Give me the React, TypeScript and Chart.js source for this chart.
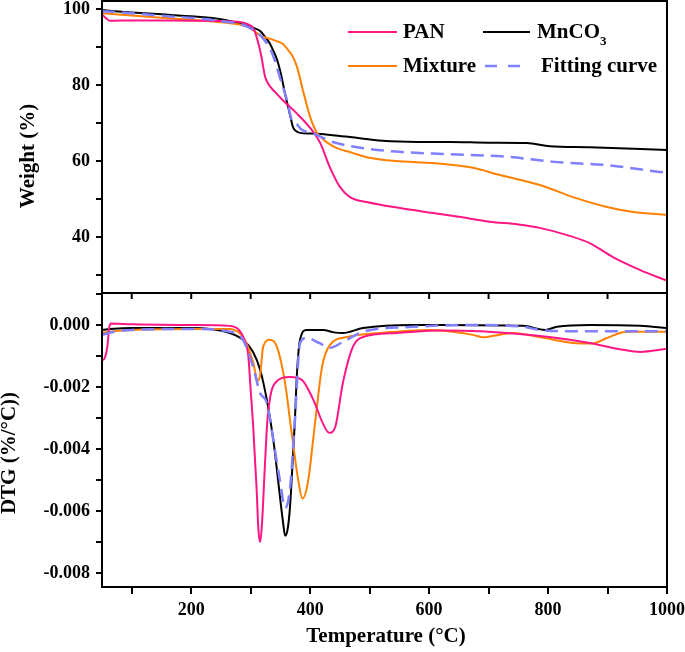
import { useEffect, useRef } from 'react';
import { Chart, registerables } from 'chart.js';
Chart.register(...registerables);

const FONT = '"Liberation Serif", "Times New Roman", serif';

const PAN_COLOR = '#ff1685';
const MN_COLOR = '#000000';
const MIX_COLOR = '#ff8000';
const FIT_COLOR = '#7f7fff';

// ---------- Weight (%) ----------
const panWT = [50, 55, 63, 100, 200, 270, 295, 305, 312, 318, 324, 330, 340, 354, 377, 400, 417, 433, 450, 467, 495, 551, 607, 650, 702, 750, 786, 832, 870, 909, 955, 1000];
const panW = [98.5, 97.8, 96.9, 97.0, 96.9, 96.7, 96.0, 94.8, 91.5, 87.5, 82.3, 80.2, 78.3, 76.0, 72.6, 68.7, 64.7, 58.4, 53.2, 50.5, 49.2, 47.6, 46.3, 45.3, 44.0, 43.3, 42.4, 40.5, 38.4, 34.7, 31.3, 28.5];

const mnWT = [50, 100, 150, 206, 250, 290, 305, 316, 325, 332, 338, 344, 350, 354, 358, 363, 367, 371, 376, 383, 403, 438, 467, 522, 580, 635, 700, 764, 803, 870, 1000];
const mnW = [99.7, 99.1, 98.6, 98.0, 97.3, 95.8, 95.0, 94.2, 92.5, 91.0, 89.0, 86.8, 83.5, 80.6, 77.5, 74.2, 71.5, 69.0, 67.9, 67.4, 67.2, 66.8, 66.3, 65.3, 65.0, 65.0, 64.8, 64.7, 63.9, 63.6, 62.9];

const mixWT = [50, 100, 150, 206, 250, 295, 310, 320, 332, 346, 354, 363, 371, 378, 388, 400, 411, 420, 430, 445, 470, 495, 551, 618, 674, 719, 786, 842, 899, 943, 1000];
const mixW = [98.9, 98.3, 97.7, 97.1, 96.5, 95.3, 93.7, 92.7, 92.2, 91.4, 90.8, 89.2, 87.4, 84.7, 78.5, 71.6, 67.5, 66.0, 64.7, 63.4, 62.2, 61.0, 59.9, 59.3, 58.2, 56.3, 53.7, 50.5, 47.9, 46.6, 45.8];

const fitWT = [50, 100, 150, 206, 250, 295, 319, 336, 349, 361, 369, 378, 386, 403, 430, 438, 487, 551, 635, 731, 815, 899, 988, 1000];
const fitW = [99.4, 98.9, 98.2, 97.6, 96.8, 95.3, 92.6, 88.4, 82.1, 76.0, 70.8, 69.6, 68.2, 67.4, 65.5, 65.0, 63.4, 62.4, 61.8, 61.1, 59.7, 58.9, 57.1, 56.9];

// ---------- DTG (%/°C) ----------
const panDT = [50, 55, 59, 62, 65, 100, 200, 265, 280, 290, 296, 300, 304, 310, 313, 316, 319, 324, 328, 333, 340, 366, 386, 405, 422, 432, 442, 455, 472, 489, 546, 620, 686, 731, 815, 870, 926, 955, 1000];
const panD = [-0.00115, -0.00105, -0.0007, -0.0001, 0.00005, 0.00002, 0.0, -0.00003, -0.00015, -0.0005, -0.001, -0.0021, -0.0032, -0.0053, -0.0066, -0.0070, -0.0064, -0.0045, -0.0031, -0.0023, -0.0019, -0.00168, -0.00177, -0.0024, -0.0032, -0.00348, -0.0033, -0.00187, -0.0007, -0.00039, -0.00026, -0.00018, -0.0002, -0.00026, -0.00042, -0.00058, -0.0008, -0.00087, -0.00077];

const mnDT = [50, 70, 100, 200, 265, 287, 304, 316, 327, 338, 349, 354, 358, 362, 366, 370, 374, 378, 383, 394, 422, 440, 455, 489, 573, 618, 758, 795, 815, 870, 955, 1000];
const mnD = [-0.00016, -0.00012, -0.0001, -0.0001, -0.00026, -0.00048, -0.00087, -0.00145, -0.0024, -0.0037, -0.0055, -0.0063, -0.0068, -0.0066, -0.0059, -0.0046, -0.0032, -0.0015, -0.00048, -0.00016, -0.00016, -0.00024, -0.00026, -0.0001, 0.0, 0.0, -0.00003, -0.00016, -0.00006, 0.0, -0.00003, -0.0001];

const mixDT = [50, 70, 100, 200, 265, 290, 304, 312, 316, 321, 332, 344, 358, 369, 380, 387, 396, 408, 420, 433, 462, 517, 601, 674, 691, 708, 741, 786, 842, 874, 899, 932, 1000];
const mixD = [-0.00026, -0.0002, -0.00016, -0.00013, -0.00013, -0.00048, -0.0012, -0.0018, -0.0016, -0.0007, -0.00048, -0.0007, -0.0019, -0.0035, -0.005, -0.0056, -0.0051, -0.0032, -0.00135, -0.00065, -0.00039, -0.00026, -0.00016, -0.00032, -0.0004, -0.00035, -0.00026, -0.00039, -0.00058, -0.0006, -0.00042, -0.00022, -0.00022];

const fitDT = [50, 70, 100, 200, 265, 287, 304, 316, 327, 338, 349, 358, 366, 374, 383, 394, 415, 433, 455, 489, 573, 686, 758, 786, 842, 926, 1000];
const fitD = [-0.00032, -0.00022, -0.00016, -0.00013, -0.00022, -0.00048, -0.00135, -0.0022, -0.0025, -0.0037, -0.005, -0.0059, -0.0053, -0.0032, -0.00058, -0.00042, -0.00058, -0.00074, -0.00055, -0.00022, -0.00006, 0.0, -0.00006, -0.00016, -0.0002, -0.0002, -0.0002];

// axis ranges / ticks
const X_MIN = 50;
const X_MAX = 1000;
const W_MIN = 25.26;
const W_MAX = 102.1;
const D_MIN = -0.00845;
const D_MAX = 0.00103;

const pts = (xs: number[], ys: number[]) => xs.map((x, i) => ({ x, y: ys[i] }));

function ds(label: string, xs: number[], ys: number[], color: string, dashed = false) {
  return {
    label,
    data: pts(xs, ys),
    borderColor: color,
    backgroundColor: color,
    borderWidth: dashed ? 2.5 : 2,
    borderDash: dashed ? [13, 7] : [],
    pointRadius: 0,
    fill: false,
    cubicInterpolationMode: 'monotone' as const,
  };
}

const tickFont = { family: FONT, size: 18, weight: 'bold' as const };

function frameRect(chart: any) {
  const { ctx, chartArea: a } = chart;
  ctx.save();
  ctx.strokeStyle = '#000';
  ctx.lineWidth = 2;
  ctx.strokeRect(a.left, a.top, a.right - a.left, a.bottom - a.top);
  ctx.restore();
}

function vTitle(ctx: CanvasRenderingContext2D, text: string, x: number, y: number) {
  ctx.save();
  ctx.translate(x, y);
  ctx.rotate(-Math.PI / 2);
  ctx.font = `bold 21px ${FONT}`;
  ctx.fillStyle = '#000';
  ctx.textAlign = 'center';
  ctx.textBaseline = 'middle';
  ctx.fillText(text, 0, 0);
  ctx.restore();
}

const topPlugin = {
  id: 'topDecor',
  afterDraw(chart: any) {
    frameRect(chart);
    const ctx: CanvasRenderingContext2D = chart.ctx;
    vTitle(ctx, 'Weight (%)', 29, 156);
    // legend
    ctx.save();
    ctx.lineWidth = 2;
    const line = (x1: number, x2: number, y: number, c: string, dash: number[] = []) => {
      ctx.beginPath();
      ctx.setLineDash(dash);
      ctx.strokeStyle = c;
      ctx.lineWidth = dash.length ? 2.5 : 2;
      ctx.moveTo(x1, y);
      ctx.lineTo(x2, y);
      ctx.stroke();
      ctx.setLineDash([]);
    };
    line(348, 397, 32, PAN_COLOR);
    line(483, 530, 32, MN_COLOR);
    line(348, 397, 66, MIX_COLOR);
    line(485, 521, 66, FIT_COLOR, [12, 11]);
    ctx.fillStyle = '#000';
    ctx.textAlign = 'left';
    ctx.textBaseline = 'middle';
    ctx.font = `bold 21px ${FONT}`;
    ctx.fillText('PAN', 403, 33);
    ctx.fillText('MnCO', 537, 33);
    const w = ctx.measureText('MnCO').width;
    ctx.fillText('Mixture', 403, 67);
    ctx.fillText('Fitting curve', 541, 67);
    ctx.font = `bold 13px ${FONT}`;
    ctx.fillText('3', 537 + w, 42);
    ctx.restore();
  },
};

const bottomPlugin = {
  id: 'bottomDecor',
  afterDraw(chart: any) {
    frameRect(chart);
    const ctx: CanvasRenderingContext2D = chart.ctx;
    const a = chart.chartArea;
    const xs = chart.scales.x;
    ctx.save();
    ctx.strokeStyle = '#000';
    ctx.lineWidth = 2;
    for (let v = 100; v <= 1000; v += 100) {
      const px = xs.getPixelForValue(v);
      ctx.beginPath();
      ctx.moveTo(px, a.top);
      ctx.lineTo(px, a.top + 6);
      ctx.stroke();
    }
    ctx.restore();
    vTitle(ctx, 'DTG (%/°C))', 10, 162);
    ctx.save();
    ctx.font = `bold 21px ${FONT}`;
    ctx.fillStyle = '#000';
    ctx.textAlign = 'center';
    ctx.textBaseline = 'middle';
    ctx.fillText('Temperature (°C)', 386, 346);
    ctx.restore();
  },
};

function yAxis(min: number, max: number, step: number, cb: (v: number) => string) {
  return {
    type: 'linear' as const,
    min,
    max,
    afterFit(s: any) {
      s.width = 102;
      s.paddingTop = 0;
      s.paddingBottom = 0;
    },
    ticks: {
      stepSize: step,
      includeBounds: false,
      autoSkip: false,
      callback: (v: any) => cb(Number(v)),
      color: '#000',
      font: tickFont,
      padding: 6,
    },
    grid: { drawOnChartArea: false, tickLength: 6, color: '#000', lineWidth: 2 },
    border: { display: true, color: '#000', width: 2 },
  };
}

export default function App() {
  const refA = useRef<HTMLCanvasElement>(null);
  const refB = useRef<HTMLCanvasElement>(null);

  useEffect(() => {
    if (!refA.current || !refB.current) return;
    const common = {
      responsive: false,
      animation: false as const,
      events: [] as any[],
    };
    const chartA = new Chart(refA.current, {
      type: 'line',
      data: {
        datasets: [
          ds('Fitting curve', fitWT, fitW, FIT_COLOR, true),
          ds('PAN', panWT, panW, PAN_COLOR),
          ds('Mixture', mixWT, mixW, MIX_COLOR),
          ds('MnCO3', mnWT, mnW, MN_COLOR),
        ],
      },
      options: {
        ...common,
        layout: { padding: { left: 0, right: 18, top: 1, bottom: 3 } },
        plugins: { legend: { display: false }, tooltip: { enabled: false } },
        scales: {
          x: { type: 'linear', min: X_MIN, max: X_MAX, display: false },
          y: yAxis(W_MIN, W_MAX, 10, (v) => (Math.round(v) % 20 === 0 ? String(Math.round(v)) : '')),
        },
      },
      plugins: [topPlugin],
    } as any);

    const chartB = new Chart(refB.current, {
      type: 'line',
      data: {
        datasets: [
          ds('Fitting curve', fitDT, fitD, FIT_COLOR, true),
          ds('PAN', panDT, panD, PAN_COLOR),
          ds('Mixture', mixDT, mixD, MIX_COLOR),
          ds('MnCO3', mnDT, mnD, MN_COLOR),
        ],
      },
      options: {
        ...common,
        layout: { padding: { left: 0, right: 18, top: 2, bottom: 0 } },
        plugins: { legend: { display: false }, tooltip: { enabled: false } },
        scales: {
          x: {
            type: 'linear',
            min: X_MIN,
            max: X_MAX,
            afterFit(s: any) {
              s.height = 65;
              s.paddingLeft = 0;
              s.paddingRight = 0;
            },
            ticks: {
              stepSize: 100,
              includeBounds: false,
              autoSkip: false,
              maxRotation: 0,
              minRotation: 0,
              callback: (v: any) => (Math.round(Number(v)) % 200 === 0 ? String(Math.round(Number(v))) : ''),
              color: '#000',
              font: tickFont,
              padding: 6,
            },
            grid: { drawOnChartArea: false, tickLength: 7, color: '#000', lineWidth: 2 },
            border: { display: true, color: '#000', width: 2 },
          },
          y: yAxis(D_MIN, D_MAX, 0.001, (v) => {
            const n = Math.round(v * 1000);
            return n % 2 === 0 ? (n / 1000).toFixed(3) : '';
          }),
        },
      },
      plugins: [bottomPlugin],
    } as any);

    return () => {
      chartA.destroy();
      chartB.destroy();
    };
  }, []);

  return (
    <div style={{ position: 'absolute', left: 0, top: 0, width: 685, height: 652, background: '#fff' }}>
      <canvas ref={refA} width={685} height={296} style={{ position: 'absolute', left: 0, top: 0 }} />
      <canvas ref={refB} width={685} height={361} style={{ position: 'absolute', left: 0, top: 291 }} />
    </div>
  );
}
